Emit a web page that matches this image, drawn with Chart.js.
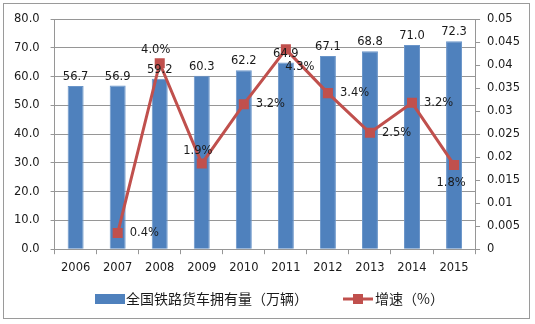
<!DOCTYPE html>
<html lang="zh">
  <head>
    <meta charset="UTF-8" />
    <title>全国铁路货车拥有量</title>
    <style>
      body {
        margin: 0;
        padding: 0;
        background: #fff;
      }
      .wrap {
        position: relative;
        width: 535px;
        height: 324px;
      }
      .frame {
        position: absolute;
        left: 3px;
        top: 3px;
        width: 527px;
        height: 316px;
        border: 1px solid #9a9a9a;
        box-sizing: border-box;
        pointer-events: none;
      }
    </style>
  </head>
  <body>
    <div class="wrap">
      <canvas id="chart" width="535" height="324"></canvas>
      <div class="frame"></div>
    </div>
    <script src="https://cdn.jsdelivr.net/npm/chart.js@4.4.0/dist/chart.umd.min.js"></script>
    <script>
      // data
      const years = ['2006', '2007', '2008', '2009', '2010', '2011', '2012', '2013', '2014', '2015'];
      const wagons = [56.7, 56.9, 59.2, 60.3, 62.2, 64.9, 67.1, 68.8, 71.0, 72.3]; // 万辆
      const growth = [null, 0.0035, 0.0404, 0.0186, 0.0315, 0.0434, 0.0339, 0.0253, 0.0318, 0.0183];
      const growthText = ['', '0.4%', '4.0%', '1.9%', '3.2%', '4.3%', '3.4%', '2.5%', '3.2%', '1.8%'];
      const leftTicks = [0, 10, 20, 30, 40, 50, 60, 70, 80];
      const rightTicks = [0, 0.005, 0.01, 0.015, 0.02, 0.025, 0.03, 0.035, 0.04, 0.045, 0.05];

      const BLUE = '#4f81bd';
      const RED = '#c0504d';
      const GRID = '#969696';
      const FONT = '"DejaVu Sans", sans-serif';

      // where each growth label sits relative to its point
      const growthPos = ['', 'right', 'above', 'above', 'right', 'belowright', 'right', 'right', 'right', 'below'];

      const labelsPlugin = {
        id: 'valueLabels',
        afterDatasetsDraw(chart) {
          const ctx = chart.ctx;
          ctx.save();
          ctx.font = '11.5px ' + FONT;
          ctx.fillStyle = '#1a1a1a';
          // bar values
          chart.getDatasetMeta(0).data.forEach((bar, i) => {
            ctx.textAlign = 'center';
            ctx.textBaseline = 'bottom';
            ctx.fillText(wagons[i].toFixed(1), bar.x, bar.y - 3);
          });
          // growth values
          chart.getDatasetMeta(1).data.forEach((pt, i) => {
            if (!growthText[i]) return;
            const p = growthPos[i];
            ctx.textBaseline = 'middle';
            if (p === 'right') {
              ctx.textAlign = 'left';
              ctx.fillText(growthText[i], pt.x + 12, pt.y);
            } else if (p === 'above') {
              ctx.textAlign = 'center';
              ctx.fillText(growthText[i], pt.x - 4, pt.y - 13);
            } else if (p === 'below') {
              ctx.textAlign = 'center';
              ctx.fillText(growthText[i], pt.x - 3, pt.y + 18);
            } else {
              ctx.textAlign = 'center';
              ctx.fillText(growthText[i], pt.x + 14, pt.y + 18);
            }
          });
          ctx.restore();
        },
      };

      const legendPlugin = {
        id: 'bottomLegend',
        afterDraw(chart) {
          const ctx = chart.ctx;
          const ds = chart.data.datasets;
          const y = 299;
          ctx.save();
          ctx.font = '14px "Noto Sans CJK SC", sans-serif';
          ctx.textBaseline = 'middle';
          ctx.textAlign = 'left';
          // bars
          ctx.fillStyle = BLUE;
          ctx.fillRect(95, y - 5, 30, 10);
          ctx.fillStyle = '#1a1a1a';
          ctx.fillText(ds[0].label, 126, y);
          // line
          ctx.strokeStyle = RED;
          ctx.lineWidth = 3;
          ctx.beginPath();
          ctx.moveTo(343, y);
          ctx.lineTo(373, y);
          ctx.stroke();
          ctx.fillStyle = RED;
          ctx.fillRect(353, y - 5, 10, 10);
          ctx.fillStyle = '#1a1a1a';
          ctx.fillText(ds[1].label, 375, y);
          ctx.restore();
        },
      };

      new Chart(document.getElementById('chart'), {
        type: 'bar',
        data: {
          labels: years,
          datasets: [
            {
              label: '全国铁路货车拥有量（万辆）',
              data: wagons,
              backgroundColor: BLUE,
              borderColor: '#6a95c9',
              borderWidth: { left: 1, right: 1, top: 1, bottom: 0 },
              barPercentage: 0.38,
              categoryPercentage: 1,
              yAxisID: 'y',
              order: 2,
            },
            {
              type: 'line',
              label: '增速（%）',
              data: growth,
              borderColor: RED,
              backgroundColor: RED,
              borderWidth: 3,
              pointStyle: 'rect',
              pointRadius: 5,
              pointHoverRadius: 5,
              spanGaps: false,
              yAxisID: 'y1',
              order: 1,
            },
          ],
        },
        options: {
          responsive: false,
          animation: false,
          layout: { padding: { left: 3, right: 8, top: 19, bottom: 42 } },
          plugins: {
            legend: { display: false },
            tooltip: { enabled: false },
          },
          scales: {
            x: {
              grid: {
                display: true,
                drawOnChartArea: false,
                drawTicks: true,
                tickLength: 5,
                color: GRID,
              },
              border: { color: GRID },
              ticks: { color: '#1a1a1a', font: { family: FONT, size: 11.5 }, padding: 7 },
            },
            y: {
              position: 'left',
              min: 0,
              max: 80,
              afterBuildTicks(axis) {
                axis.ticks = leftTicks.map((v) => ({ value: v }));
              },
              grid: { color: GRID, tickLength: 4 },
              border: { color: GRID },
              ticks: {
                color: '#1a1a1a',
                font: { family: FONT, size: 11.5 },
                padding: 11,
                callback: (v) => Number(v).toFixed(1),
              },
            },
            y1: {
              position: 'right',
              min: 0,
              max: 0.05,
              afterBuildTicks(axis) {
                axis.ticks = rightTicks.map((v) => ({ value: v }));
              },
              grid: { drawOnChartArea: false, color: GRID, tickLength: 5 },
              border: { color: GRID },
              ticks: {
                color: '#1a1a1a',
                font: { family: FONT, size: 11.5 },
                padding: 7,
                callback: (v) => String(+Number(v).toFixed(3)),
              },
            },
          },
        },
        plugins: [labelsPlugin, legendPlugin],
      });
    </script>
  </body>
</html>
